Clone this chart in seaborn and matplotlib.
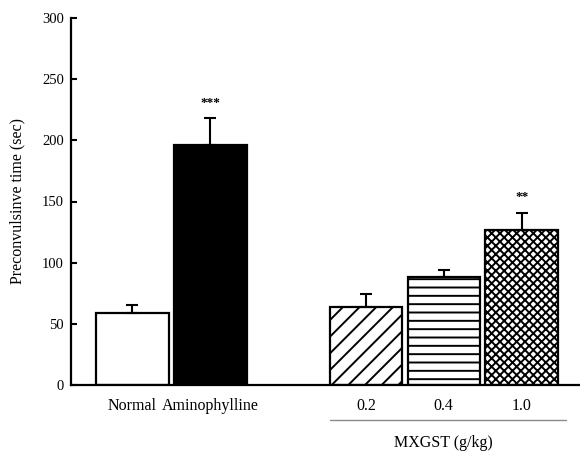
import matplotlib
matplotlib.use('Agg')
import matplotlib.pyplot as plt
import matplotlib.transforms as mtransforms
import seaborn as sns
import pandas as pd

# values
groups = ['Normal', 'Aminophylline', '0.2', '0.4', '1.0']
means = [59, 196, 64, 88, 127]
sems = [6, 22, 10, 6, 14]
stars = ['', '***', '', '', '**']
fills = ['white', 'black', 'white', 'white', 'white']
hatches = ['', '', '//', '--', 'xxxx']

# blank slot between the control groups and the MXGST doses
order = ['Normal', 'Aminophylline', ' ', '0.2', '0.4', '1.0']

sns.set_style('white')
plt.rcParams['font.family'] = ['Liberation Serif', 'DejaVu Serif']
plt.rcParams['hatch.linewidth'] = 1.4
plt.rcParams['text.color'] = 'black'
plt.rcParams['xtick.color'] = 'black'
plt.rcParams['ytick.color'] = 'black'
plt.rcParams['axes.labelcolor'] = 'black'

df = pd.DataFrame({'group': groups, 'time': means})

fig = plt.figure(figsize=(5.8, 4.51), dpi=100)
ax = fig.add_axes([71 / 580, 1 - 385 / 451, 509 / 580, 367 / 451])

sns.barplot(data=df, x='group', y='time', order=order, color='white',
            edgecolor='black', linewidth=1.6, width=0.93, errorbar=None,
            saturation=1, ax=ax)

for patch, fc, h in zip(ax.patches, fills, hatches):
    patch.set_facecolor(fc)
    patch.set_hatch(h)

pos = [order.index(g) for g in groups]
ax.errorbar(pos, means, yerr=[[0] * len(sems), sems], fmt='none',
            ecolor='black', elinewidth=1.5, capsize=4.5, capthick=1.5, zorder=1)

for x, m, s, st in zip(pos, means, sems, stars):
    if st:
        ax.text(x, m + s + 8, st, ha='center', va='bottom', fontsize=9.5,
                fontweight='bold')

ax.set_xlim(-0.79, 5.75)
ax.set_ylim(0, 300)
ax.set_yticks(range(0, 301, 50))
ax.set_xlabel('')
ax.set_ylabel('Preconvulsinve time (sec)', fontsize=11.5)
ax.yaxis.set_label_coords(-0.09, 0.5)

ax.tick_params(axis='y', left=True, direction='in', length=4.5, width=1.5,
               labelsize=10.5, pad=5)
ax.tick_params(axis='x', bottom=False, length=0, labelsize=11.5, pad=9)

sns.despine(ax=ax)
for side in ['left', 'bottom']:
    ax.spines[side].set_linewidth(1.6)
    ax.spines[side].set_color('black')

# grouping line and label under the dose bars
trans = mtransforms.blended_transform_factory(ax.transData, ax.transAxes)
ax.plot([pos[2] - 0.46, pos[4] + 0.57], [-0.095, -0.095], color='#8a8a8a',
        linewidth=1.0, transform=trans, clip_on=False)
ax.text(pos[3], -0.158, 'MXGST (g/kg)', ha='center', va='center',
        fontsize=11.5, transform=trans)

fig.savefig('out.png', dpi=100)
